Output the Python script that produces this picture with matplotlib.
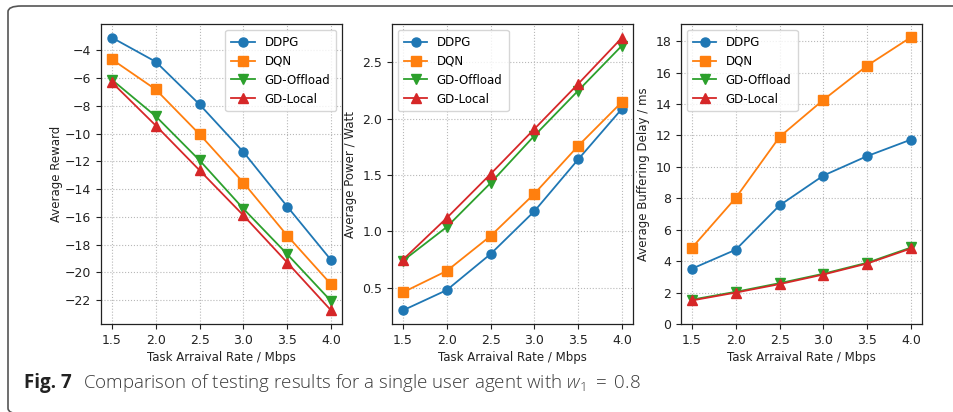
import matplotlib
matplotlib.use("Agg")
import matplotlib.pyplot as plt
from matplotlib.patches import FancyBboxPatch

rates = [1.5, 2.0, 2.5, 3.0, 3.5, 4.0]
methods = ["DDPG", "DQN", "GD-Offload", "GD-Local"]

reward_ddpg = [-3.08, -4.82, -7.9, -11.33, -15.26, -19.12]
reward_dqn = [-4.65, -6.82, -10.05, -13.54, -17.36, -20.87]
reward_off = [-6.12, -8.75, -11.93, -15.42, -18.7, -22.08]
reward_loc = [-6.31, -9.42, -12.65, -15.9, -19.3, -22.75]

power_ddpg = [0.30, 0.48, 0.80, 1.18, 1.64, 2.09]
power_dqn = [0.46, 0.65, 0.96, 1.335, 1.76, 2.15]
power_off = [0.74, 1.04, 1.43, 1.85, 2.25, 2.65]
power_loc = [0.75, 1.12, 1.51, 1.91, 2.31, 2.72]

delay_ddpg = [3.52, 4.73, 7.55, 9.45, 10.69, 11.74]
delay_dqn = [4.85, 8.03, 11.91, 14.27, 16.45, 18.26]
delay_off = [1.55, 2.05, 2.6, 3.2, 3.9, 4.87]
delay_loc = [1.5, 2.0, 2.54, 3.15, 3.85, 4.81]

reward_ticks = [-4, -6, -8, -10, -12, -14, -16, -18, -20, -22]
power_ticks = [0.5, 1.0, 1.5, 2.0, 2.5]
delay_ticks = [0, 2, 4, 6, 8, 10, 12, 14, 16, 18]

ylabels = ["Average Reward", "Average Power / Watt", "Average Buffering Delay / ms"]
xlabel = "Task Arraival Rate / Mbps"
caption_bold = "Fig. 7"
caption_rest = "Comparison of testing results for a single user agent with $w_1$ $=$ 0.8"

colors = ["#1f77b4", "#ff7f0e", "#2ca02c", "#d62728"]
markers = ["o", "s", "v", "^"]

plt.rcParams["mathtext.fontset"] = "custom"
plt.rcParams["mathtext.rm"] = "Open Sans:light"
plt.rcParams["mathtext.it"] = "Open Sans:italic:light"

W, H = 954, 412
fig = plt.figure(figsize=(W / 100, H / 100), dpi=100)

# frame
frame = FancyBboxPatch((8 / W, -2 / H), (1000 - 8) / W, (406 + 2) / H,
                       boxstyle="round,pad=0,rounding_size=0.014",
                       transform=fig.transFigure, fill=False,
                       edgecolor="#555555", linewidth=1.2, clip_on=False)
fig.patches.append(frame)

panels = [
    (101, [reward_ddpg, reward_dqn, reward_off, reward_loc], "upper right", reward_ticks),
    (392, [power_ddpg, power_dqn, power_off, power_loc], "upper left", power_ticks),
    (681, [delay_ddpg, delay_dqn, delay_off, delay_loc], "upper left", delay_ticks),
]

for i, (left, series, loc, yt) in enumerate(panels):
    ax = fig.add_axes([left / W, (H - 324) / H, 241 / W, 300 / H])
    for s, name, c, m in zip(series, methods, colors, markers):
        ax.plot(rates, s, color=c, marker=m, markersize=6.5, linewidth=1.3, label=name)
    ax.grid(True, linestyle=":", color="#b8b8b8", linewidth=0.8)
    ax.set_axisbelow(True)
    ax.set_xticks(rates)
    ax.set_xticklabels([f"{r:.1f}" for r in rates])
    ax.set_yticks(yt)
    if i == 1:
        ax.set_yticklabels([f"{v:.1f}" for v in yt])
    else:
        ax.set_yticklabels([f"{v:d}".replace("-", "\u2212") for v in yt])
    ax.tick_params(labelsize=9, length=3.5, width=0.8, colors="#222222")
    for sp in ax.spines.values():
        sp.set_color("#222222")
        sp.set_linewidth(0.9)
    ax.set_xlabel(xlabel, fontsize=8.5, color="#222222", labelpad=3)
    ax.set_ylabel(ylabels[i], fontsize=8.5, color="#222222", labelpad=1.5 if i == 0 else 4)
    if i == 2:
        ax.set_ylim(bottom=0)
    ax.legend(loc=loc, fontsize=8.5, handlelength=2.0, borderpad=0.5,
              labelspacing=0.5, framealpha=0.8, edgecolor="#cccccc")

fig.text(24 / W, (H - 388) / H, caption_bold, fontsize=13.5, fontweight="bold",
         color="#222222", family="Open Sans", va="baseline", ha="left")
fig.text(83 / W, (H - 388) / H, caption_rest, fontsize=13.5, fontweight="light",
         color="#3a3a3a", family="Open Sans", va="baseline", ha="left")

fig.savefig("out.png", dpi=100)
